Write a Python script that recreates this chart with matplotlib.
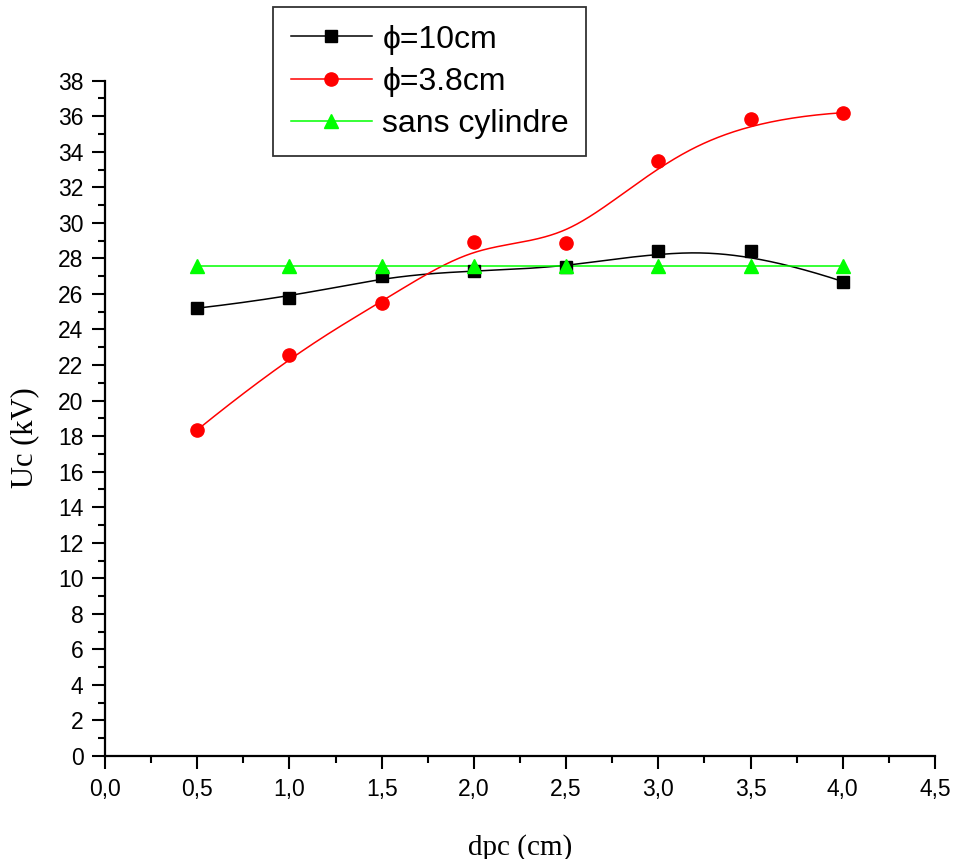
import numpy as np
import matplotlib
matplotlib.use("Agg")
import matplotlib.pyplot as plt
from matplotlib.lines import Line2D
from matplotlib.ticker import MultipleLocator, FuncFormatter

# data
dpc = [0.5, 1.0, 1.5, 2.0, 2.5, 3.0, 3.5, 4.0]
uc_10cm = [25.2, 25.8, 27.0, 27.3, 27.5, 28.4, 28.4, 26.7]
uc_38cm = [18.35, 22.55, 25.5, 28.9, 28.85, 33.5, 35.85, 36.2]
uc_sans = [27.6, 27.6, 27.6, 27.6, 27.6, 27.6, 27.6, 27.6]
labels = ["\u03d5=10cm", "\u03d5=3.8cm", "sans cylindre"]


def bspline(xs, ys, n_out=400, k=3):
    # clamped uniform cubic B-spline, data points used as control points
    pts = np.column_stack([xs, ys])
    n = len(pts)
    knots = np.concatenate([np.zeros(k), np.arange(n - k + 1), np.full(k, n - k)]).astype(float)
    t = np.linspace(0, n - k - 1e-9, n_out)
    N = np.zeros((len(t), len(knots) - 1))
    for i in range(len(knots) - 1):
        N[:, i] = (t >= knots[i]) & (t < knots[i + 1])
    for d in range(1, k + 1):
        Nn = np.zeros((len(t), len(knots) - 1 - d))
        for i in range(len(knots) - 1 - d):
            a = knots[i + d] - knots[i]
            b = knots[i + d + 1] - knots[i + 1]
            term = np.zeros(len(t))
            if a > 0:
                term += (t - knots[i]) / a * N[:, i]
            if b > 0:
                term += (knots[i + d + 1] - t) / b * N[:, i + 1]
            Nn[:, i] = term
        N = Nn
    c = N @ pts
    return c[:, 0], c[:, 1]


sans = ["Liberation Sans", "DejaVu Sans"]
serif = ["Liberation Serif", "DejaVu Serif"]
plt.rcParams['font.family'] = sans

fig = plt.figure(figsize=(9.56, 8.59), dpi=100)
ax = fig.add_axes([105 / 956, 1 - 756 / 859, (935 - 105) / 956, (756 - 80.7) / 859])

series = [
    (uc_10cm, "black", "s", 8.5),
    (uc_38cm, "#ff0000", "o", 9.5),
    (uc_sans, "#00ff00", "^", 10.5),
]
handles = []
for (vals, col, mk, ms), lab in zip(series, labels):
    sx, sy = bspline(dpc, vals)
    ax.plot(sx, sy, color=col, lw=1.1, zorder=2)
    ax.plot(dpc, vals, ls="none", marker=mk, ms=ms, color=col, mec=col, zorder=3)
    handles.append(Line2D([], [], color=col, lw=1.1, marker=mk, ms=ms, mec=col))

ax.set_xlim(0, 4.5)
ax.set_ylim(0, 38)
ax.spines['top'].set_visible(False)
ax.spines['right'].set_visible(False)
for s in ("left", "bottom"):
    ax.spines[s].set_linewidth(1.6)

ax.xaxis.set_major_locator(MultipleLocator(0.5))
ax.xaxis.set_minor_locator(MultipleLocator(0.25))
ax.yaxis.set_major_locator(MultipleLocator(2))
ax.yaxis.set_minor_locator(MultipleLocator(1))
ax.xaxis.set_major_formatter(FuncFormatter(lambda v, p: f"{v:.1f}".replace(".", ",")))
ax.yaxis.set_major_formatter(FuncFormatter(lambda v, p: f"{v:.0f}"))
ax.tick_params(which="major", direction="out", length=9.5, width=1.5, labelsize=16.5)
ax.tick_params(which="minor", direction="out", length=5, width=1.5)
ax.tick_params(axis="y", pad=6)
ax.tick_params(axis="x", pad=6)

ax.set_xlabel("dpc (cm)", family=serif, fontsize=21, labelpad=24)
ax.set_ylabel("Uc (kV)", family=serif, fontsize=22)
ax.yaxis.set_label_coords(-0.079, 0.471)

leg = fig.legend(handles, labels, loc="upper left",
                 bbox_to_anchor=(273 / 956, 1 - 7 / 859), bbox_transform=fig.transFigure,
                 borderaxespad=0, fontsize=23, handlelength=2.55, handletextpad=0.32,
                 labelspacing=0.38, fancybox=False, framealpha=1, borderpad=0.55)
leg.get_frame().set_edgecolor("#333333")
leg.get_frame().set_linewidth(1.3)

fig.savefig("out.png", dpi=100)
